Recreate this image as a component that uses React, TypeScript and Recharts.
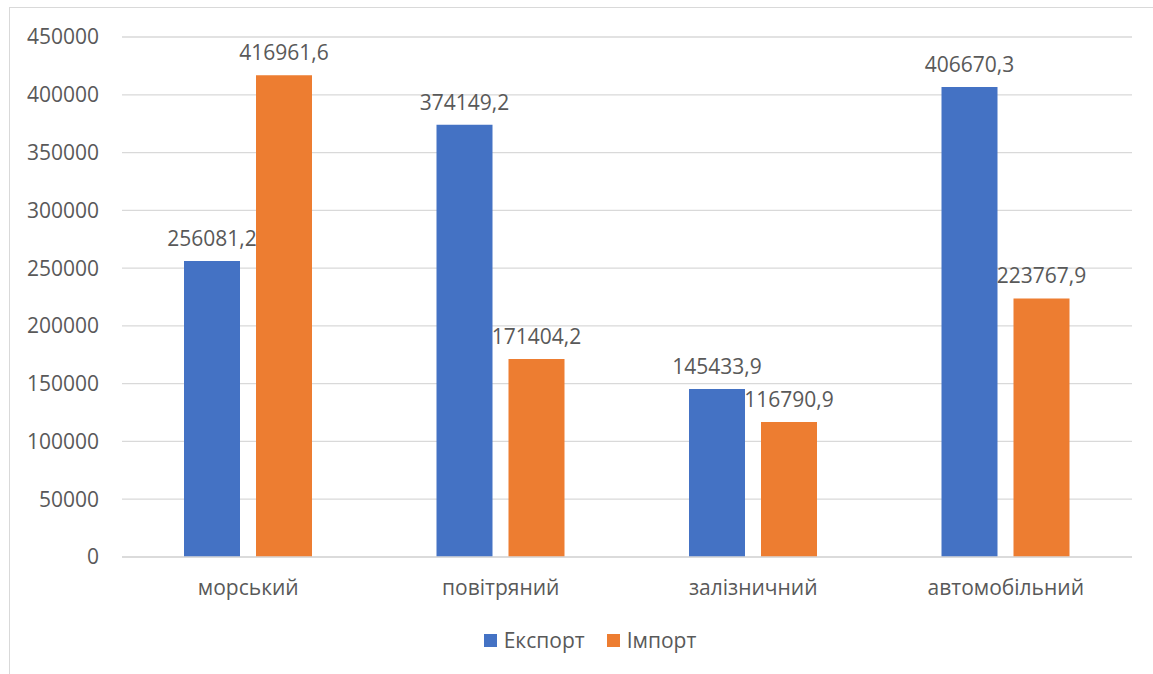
import React from "react";
import { BarChart, Bar, XAxis, YAxis, CartesianGrid, LabelList } from "recharts";

const categories = ["морський", "повітряний", "залізничний", "автомобільний"];
const exportValues = [256081.2, 374149.2, 145433.9, 406670.3];
const importValues = [416961.6, 171404.2, 116790.9, 223767.9];
const yTicks = [0, 50000, 100000, 150000, 200000, 250000, 300000, 350000, 400000, 450000];

const seriesNames = { exp: "Експорт", imp: "Імпорт" };
const colors = { exp: "#4472C4", imp: "#ED7D31" };

const data = categories.map((name, i) => ({
  name,
  exp: exportValues[i],
  imp: importValues[i],
}));

const FONT = "'Open Sans', sans-serif";
const TEXT = "#595959";
const FS = 21;

const fmt = (v: any) => String(v).replace(".", ",");

function LegendBlock() {
  const items = [
    { key: "exp", label: seriesNames.exp, color: colors.exp },
    { key: "imp", label: seriesNames.imp, color: colors.imp },
  ];
  return (
    <div
      style={{
        position: "absolute",
        left: 0,
        top: 625,
        width: 1180,
        height: 30,
        display: "flex",
        justifyContent: "center",
        alignItems: "center",
        fontFamily: FONT,
        fontSize: FS,
        color: TEXT,
      }}
    >
      {items.map((it, i) => (
        <div key={it.key} style={{ display: "flex", alignItems: "center", marginLeft: i ? 22 : 0 }}>
          <span style={{ width: 13, height: 13, background: it.color, display: "inline-block", marginRight: 7 }} />
          <span>{it.label}</span>
        </div>
      ))}
    </div>
  );
}

export default function App() {
  return (
    <div style={{ position: "absolute", left: 0, top: 0, width: 1153, height: 674, overflow: "hidden", background: "#fff" }}>
      <div
        style={{
          position: "absolute",
          left: 9,
          top: 7,
          width: 1170,
          height: 700,
          border: "1px solid #d9d9d9",
        }}
      />
      <div style={{ position: "absolute", left: 0, top: 0 }}>
        <BarChart
          width={1153}
          height={674}
          data={data}
          margin={{ top: 37, right: 21, bottom: 0, left: 0 }}
          barSize={56}
          barGap={16}
        >
          <CartesianGrid vertical={false} stroke="#d9d9d9" strokeWidth={1.3} />
          <XAxis
            dataKey="name"
            axisLine={{ stroke: "#d9d9d9", strokeWidth: 1.3 }}
            tickLine={false}
            tickSize={0}
            tickMargin={23}
            tick={{ fill: TEXT, fontSize: FS, fontFamily: FONT }}
            height={117}
          />
          <YAxis
            domain={[0, 450000]}
            ticks={yTicks}
            interval={0}
            axisLine={false}
            tickLine={false}
            tickSize={0}
            tickMargin={23}
            width={122}
            tick={{ fill: TEXT, fontSize: FS, fontFamily: FONT }}
          />
          <Bar dataKey="exp" name={seriesNames.exp} fill={colors.exp} isAnimationActive={false}>
            <LabelList
              dataKey="exp"
              position="top"
              offset={15}
              formatter={fmt}
              style={{ fill: TEXT, fontSize: FS, fontFamily: FONT }}
            />
          </Bar>
          <Bar dataKey="imp" name={seriesNames.imp} fill={colors.imp} isAnimationActive={false}>
            <LabelList
              dataKey="imp"
              position="top"
              offset={15}
              formatter={fmt}
              style={{ fill: TEXT, fontSize: FS, fontFamily: FONT }}
            />
          </Bar>
        </BarChart>
      </div>
      <LegendBlock />
    </div>
  );
}
